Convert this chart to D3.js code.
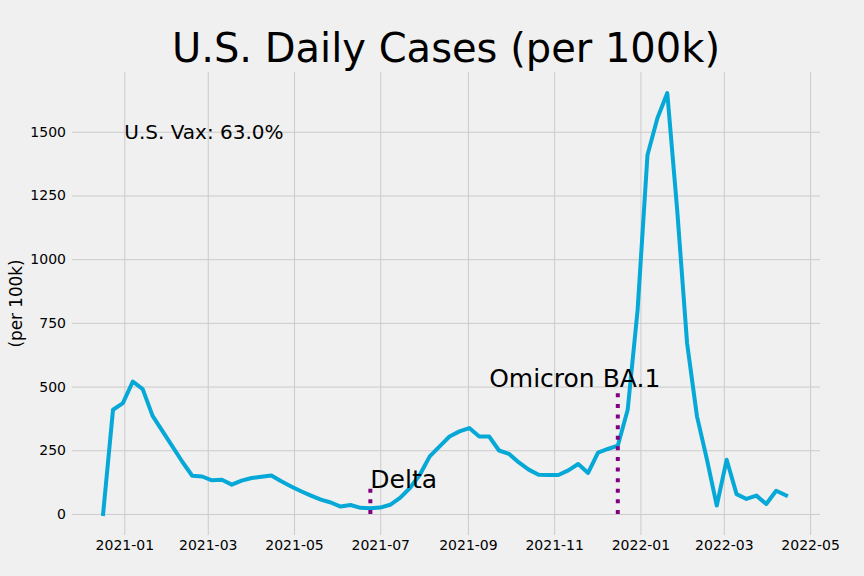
<!DOCTYPE html>
<html>
<head>
<meta charset="utf-8">
<script src="https://cdn.jsdelivr.net/npm/d3@7"></script>
<style>
  html, body { margin: 0; padding: 0; background: #f0f0f0; }
  svg { display: block; }
  text { font-family: "DejaVu Sans", sans-serif; fill: #000; }
</style>
</head>
<body>
<svg id="chart" width="864" height="576"></svg>
<script>
// ---- data ----
const weekDates = [
  "2020-12-17","2020-12-24","2020-12-31","2021-01-07","2021-01-14","2021-01-21","2021-01-28",
  "2021-02-04","2021-02-11","2021-02-18","2021-02-25","2021-03-04","2021-03-11","2021-03-18",
  "2021-03-25","2021-04-01","2021-04-08","2021-04-15","2021-04-22","2021-04-29","2021-05-06",
  "2021-05-13","2021-05-20","2021-05-27","2021-06-03","2021-06-10","2021-06-17","2021-06-24",
  "2021-07-01","2021-07-08","2021-07-15","2021-07-22","2021-07-29","2021-08-05","2021-08-12",
  "2021-08-19","2021-08-26","2021-09-02","2021-09-09","2021-09-16","2021-09-23","2021-09-30",
  "2021-10-07","2021-10-14","2021-10-21","2021-10-28","2021-11-04","2021-11-11","2021-11-18",
  "2021-11-25","2021-12-02","2021-12-09","2021-12-16","2021-12-23","2021-12-30","2022-01-06",
  "2022-01-13","2022-01-20","2022-01-27","2022-02-03","2022-02-10","2022-02-17","2022-02-24",
  "2022-03-03","2022-03-10","2022-03-17","2022-03-24","2022-03-31","2022-04-07","2022-04-14"
];
const casesPer100k = [
  0, 409, 435, 520, 490, 385, 325,
  265, 205, 150, 147, 132, 134, 115,
  131, 141, 146, 151, 128, 108, 89,
  72, 56, 45, 29, 35, 24, 22,
  25, 36, 63, 102, 154, 226, 265,
  304, 324, 337, 304, 304, 249, 236,
  202, 174, 154, 153, 153, 171, 196,
  161, 241, 255, 268, 409, 800, 1409,
  1553, 1652, 1193, 670, 383, 215, 33,
  213, 78, 59, 72, 39, 91, 73
];
const yTickValues = [0, 250, 500, 750, 1000, 1250, 1500];
const variantNames = ["Delta", "Omicron BA.1"];
const variantDates = ["2021-06-24", "2021-12-16"];
const variantLineTops = [100, 475];
const variantLabelDates = ["2021-06-24", "2021-09-16"];
const variantLabelValues = [100, 500];
const vaxLabel = "U.S. Vax: 63.0%";
const vaxLabelDate = "2021-01-01";
const vaxLabelValue = 1470;
const titleText = "U.S. Daily Cases (per 100k)";
const yLabelText = "(per 100k)";

// ---- layout ----
(function () {
const parse = d3.utcParse("%Y-%m-%d");
const mLeft = 72, mRight = 820, mTop = 72, mBottom = 535;
const svg = d3.select("#chart");
svg.append("rect").attr("width", 864).attr("height", 576).attr("fill", "#f0f0f0");

const x = d3.scaleUtc()
  .domain([new Date(Date.UTC(2020, 10, 25, 0)), new Date(Date.UTC(2022, 4, 8, 0))])
  .range([mLeft, mRight]);
const y = d3.scaleLinear().domain([-82.6, 1734.6]).range([mBottom, mTop]);

const data = weekDates.map((d, i) => ({ date: parse(d), v: casesPer100k[i] }));

// y axis + horizontal grid
const yAxis = svg.append("g")
  .attr("transform", `translate(${mLeft},0)`)
  .call(d3.axisLeft(y).tickValues(yTickValues).tickFormat(d3.format("d"))
    .tickSize(-(mRight - mLeft)).tickPadding(6));
yAxis.select(".domain").remove();
yAxis.selectAll(".tick line").attr("stroke", "#cbcbcb").attr("stroke-width", 1);
yAxis.selectAll(".tick text").attr("font-size", 14).attr("font-family", "DejaVu Sans").attr("fill", "#000");

// x axis + vertical grid
const xAxis = svg.append("g")
  .attr("transform", `translate(0,${mBottom})`)
  .call(d3.axisBottom(x).ticks(d3.utcMonth.every(2)).tickFormat(d3.utcFormat("%Y-%m"))
    .tickSize(-(mBottom - mTop)).tickPadding(5));
xAxis.select(".domain").remove();
xAxis.selectAll(".tick line").attr("stroke", "#cbcbcb").attr("stroke-width", 1);
xAxis.selectAll(".tick text").attr("font-size", 14).attr("font-family", "DejaVu Sans").attr("fill", "#000");

// main line
svg.append("path")
  .datum(data)
  .attr("fill", "none")
  .attr("stroke", "#05a8d6")
  .attr("stroke-width", 4)
  .attr("stroke-linejoin", "round")
  .attr("stroke-linecap", "square")
  .attr("d", d3.line().x(d => x(d.date)).y(d => y(d.v)));

// variant markers
variantNames.forEach((name, i) => {
  const vx = x(parse(variantDates[i]));
  svg.append("line")
    .attr("x1", vx).attr("x2", vx)
    .attr("y1", y(0)).attr("y2", y(variantLineTops[i]))
    .attr("stroke", "purple")
    .attr("stroke-width", 4)
    .attr("stroke-dasharray", "4,6.6");
  svg.append("text")
    .attr("x", x(parse(variantLabelDates[i])))
    .attr("y", y(variantLabelValues[i]))
    .attr("font-size", 25)
    .text(name);
});

// vax annotation
svg.append("text")
  .attr("x", x(parse(vaxLabelDate)))
  .attr("y", y(vaxLabelValue))
  .attr("font-size", 20)
  .text(vaxLabel);

// title
svg.append("text")
  .attr("x", (mLeft + mRight) / 2)
  .attr("y", 62)
  .attr("text-anchor", "middle")
  .attr("font-size", 40)
  .text(titleText);

// y label
svg.append("text")
  .attr("transform", `translate(21.7,${(mTop + mBottom) / 2}) rotate(-90)`)
  .attr("text-anchor", "middle")
  .attr("font-size", 16.8)
  .text(yLabelText);
})();
</script>
</body>
</html>
